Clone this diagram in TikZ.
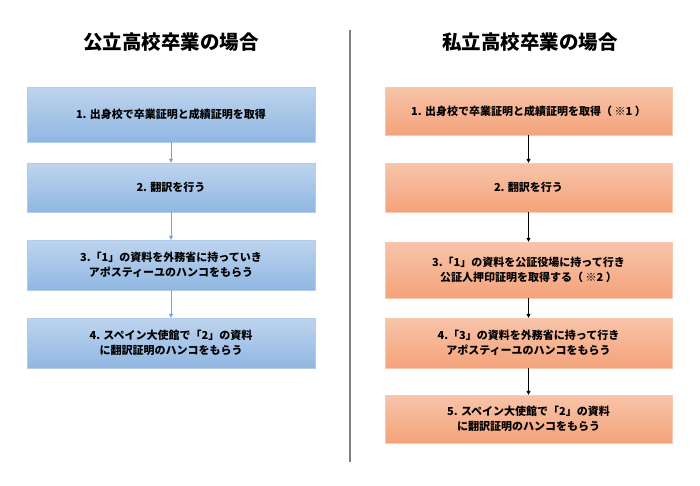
\documentclass[tikz,border=0pt]{standalone}
\usepackage{fontspec}
\setmainfont{Noto Sans CJK JP}
\usetikzlibrary{arrows.meta}
\begin{document}
\begin{tikzpicture}[x=1pt,y=-1pt,
  bbox/.style={minimum width=288pt, align=center, font=\bfseries\fontsize{11}{15}\selectfont, inner sep=0pt},
  obox/.style={minimum width=287pt, align=center, font=\bfseries\fontsize{11}{15}\selectfont, inner sep=0pt},
  barr/.style={-{Triangle[length=4pt,width=4pt]}, line width=0.8pt},
  oarr/.style={-{Triangle[length=4pt,width=4pt]}, draw=black, line width=0.8pt},
  ttl/.style={font=\bfseries\fontsize{19.5}{22}\selectfont}]
\useasboundingbox (0,0) rectangle (700,485);
\definecolor{bt}{RGB}{190,212,238}\definecolor{bb}{RGB}{144,183,226}
\definecolor{ot}{RGB}{248,196,170}\definecolor{ob}{RGB}{244,163,122}
\tikzset{bbox/.append style={top color=bt,bottom color=bb,draw=bb!70!white},
         obox/.append style={top color=ot,bottom color=ob,draw=ob!60!white},
         barr/.append style={draw=bb!85!blue, fill=bb!85!blue}}
\node[ttl] (tl) at (171,42) {公立高校卒業の場合};
\node[ttl] (tr) at (530,42) {私立高校卒業の場合};
\draw[gray, line width=1.6pt] (350,30) coordinate (d1) -- (350,462) coordinate (d2);
\node[bbox, minimum height=55pt] (l1) at (171,114.5) {1. 出身校で卒業証明と成績証明を取得};
\node[bbox, minimum height=49pt] (l2) at (171,187.5) {2. 翻訳を行う};
\node[bbox, minimum height=50pt] (l3) at (171,265) {3.「1」の資料を外務省に持っていき\\アポスティーユのハンコをもらう};
\node[bbox, minimum height=50pt] (l4) at (171,343) {4. スペイン大使館で「2」の資料\\に翻訳証明のハンコをもらう};
\draw[barr] (l1) -- (l2); \draw[barr] (l2) -- (l3); \draw[barr] (l3) -- (l4);
\node[obox, minimum height=48pt] (r1) at (528.5,111) {1. 出身校で卒業証明と成績証明を取得（ ※1 ）};
\node[obox, minimum height=49pt] (r2) at (528.5,187.5) {2. 翻訳を行う};
\node[obox, minimum height=56pt] (r3) at (528.5,270) {3.「1」の資料を公証役場に持って行き\\公証人押印証明を取得する（ ※2 ）};
\node[obox, minimum height=50pt] (r4) at (528.5,343) {4.「3」の資料を外務省に持って行き\\アポスティーユのハンコをもらう};
\node[obox, minimum height=48pt] (r5) at (528.5,419) {5. スペイン大使館で「2」の資料\\に翻訳証明のハンコをもらう};
\draw[oarr] (r1) -- (r2); \draw[oarr] (r2) -- (r3); \draw[oarr] (r3) -- (r4); \draw[oarr] (r4) -- (r5);
\end{tikzpicture}
\end{document}
